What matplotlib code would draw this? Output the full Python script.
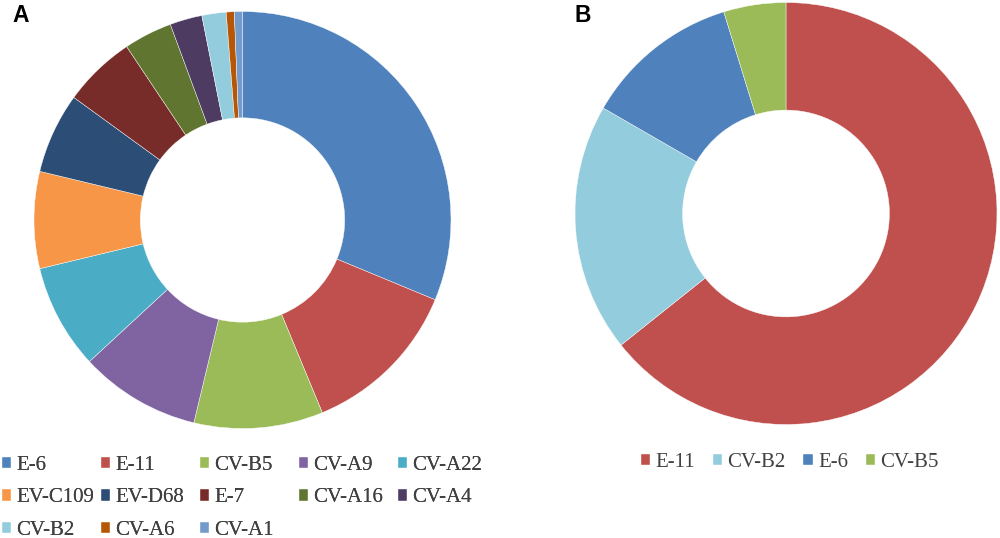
import matplotlib
matplotlib.use('Agg')
import matplotlib.pyplot as plt

# panel A: all isolates
labels_a = ['E-6', 'E-11', 'CV-B5', 'CV-A9', 'CV-A22', 'EV-C109', 'EV-D68',
            'E-7', 'CV-A16', 'CV-A4', 'CV-B2', 'CV-A6', 'CV-A1']
counts_a = [50, 20, 16, 15, 13, 12, 10, 9, 6, 4, 3, 1, 1]
colors_a = ['#4F81BD', '#C0504D', '#9BBB59', '#8064A2', '#4BACC6', '#F79646',
            '#2C4D75', '#772C2A', '#5F7530', '#4D3B62', '#93CDDD', '#B65708',
            '#729ACA']

# panel B
labels_b = ['E-11', 'CV-B2', 'E-6', 'CV-B5']
counts_b = [27, 8, 5, 2]
colors_b = ['#C0504D', '#93CDDD', '#4F81BD', '#9BBB59']

W, H = 1000, 538
fig = plt.figure(figsize=(W / 100, H / 100), dpi=100)
serif = ['Liberation Serif', 'DejaVu Serif']
leg_kw = dict(frameon=False, prop=dict(family=serif, size=15),
              handlelength=0.45, handleheight=0.45, handletextpad=0.25,
              borderaxespad=0, borderpad=0, labelcolor='#404040')


def donut(cx, cy, r, counts, colors):
    ax = fig.add_axes([(cx - r) / W, 1 - (cy + r) / H, 2 * r / W, 2 * r / H])
    wedges, _ = ax.pie(counts, colors=colors, startangle=90, counterclock=False,
                       radius=1, wedgeprops=dict(width=0.51, edgecolor='white',
                                                 linewidth=0.3))
    ax.set_xlim(-1, 1)
    ax.set_ylim(-1, 1)
    ax.set_axis_off()
    return wedges


wa = donut(242.5, 220, 208.5, counts_a, colors_a)
wb = donut(786, 213.5, 211, counts_b, colors_b)

# legend A: row-major grid with equal column widths, one legend per column
ncol = 5
for c in range(ncol):
    idx = list(range(c, len(labels_a), ncol))
    leg = fig.legend([wa[i] for i in idx], [labels_a[i] for i in idx],
                     loc='upper left',
                     bbox_to_anchor=((2 + 99 * c) / W, 1 - 456 / H),
                     labelspacing=0.64, **leg_kw)
    fig.add_artist(leg)

fig.legend(wb, labels_b, ncol=4, loc='upper left',
           bbox_to_anchor=(641 / W, 1 - 453 / H), columnspacing=0.85, **leg_kw)

fig.text(12 / W, 1 - 4 / H, 'A', fontsize=16.5, fontweight='bold', va='top',
         family=['Liberation Sans', 'DejaVu Sans'])
fig.text(574 / W, 1 - 4 / H, 'B', fontsize=16.5, fontweight='bold', va='top',
         family=['Liberation Sans', 'DejaVu Sans'])

fig.savefig('out.png', dpi=100, facecolor='white')
